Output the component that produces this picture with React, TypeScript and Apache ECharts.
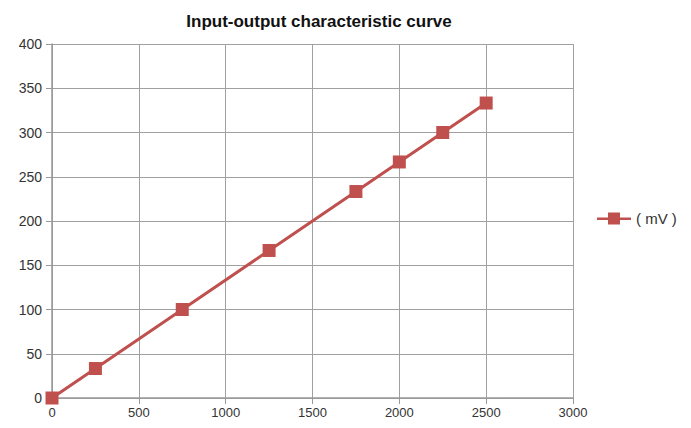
import React, { useEffect, useRef } from "react";
import * as echarts from "echarts";

const xValues = [0, 250, 750, 1250, 1750, 2000, 2250, 2500];
const yValues = [0, 33.3, 100, 166.7, 233.3, 266.7, 300, 333.3];
const seriesName = "( mV )";
const titleText = "Input-output characteristic curve";

export default function App() {
  const ref = useRef<HTMLDivElement>(null);
  useEffect(() => {
    if (!ref.current) return;
    const chart = echarts.init(ref.current, null, { renderer: "svg" });
    const data = xValues.map((x, i) => [x, yValues[i]]);
    chart.setOption({
      animation: false,
      backgroundColor: "#ffffff",
      title: {
        text: titleText,
        left: 314,
        textAlign: "center",
        top: 8,
        textStyle: { fontFamily: "Liberation Sans, Arial, sans-serif", fontSize: 17, fontWeight: "bold", color: "#111" },
      },
      legend: {
        orient: "vertical",
        left: 592,
        top: 206,
        itemWidth: 34,
        itemHeight: 12,
        itemGap: 5,
        textStyle: { fontFamily: "Liberation Sans, Arial, sans-serif", fontSize: 15, color: "#333" },
        data: [{ name: seriesName, icon: "path://M0,5 L11,5 L11,0 L23,0 L23,5 L34,5 L34,7.5 L23,7.5 L23,12 L11,12 L11,7.5 L0,7.5 Z" }],
      },
      grid: { left: 52, right: 118, top: 44, bottom: 30, containLabel: false },
      xAxis: {
        type: "value",
        min: 0,
        max: 3000,
        interval: 500,
        axisLine: { show: true, lineStyle: { color: "#999", width: 1.5 } },
        axisTick: { show: true, length: 6, lineStyle: { color: "#999" } },
        axisLabel: { fontFamily: "Liberation Sans, Arial, sans-serif", fontSize: 13, color: "#333", margin: 8, formatter: (v: number) => String(v) },
        splitLine: { show: true, lineStyle: { color: "#a0a0a0", width: 1 } },
      },
      yAxis: {
        type: "value",
        min: 0,
        max: 400,
        interval: 50,
        axisLine: { show: true, lineStyle: { color: "#999", width: 1.5 } },
        axisTick: { show: true, length: 6, lineStyle: { color: "#999" } },
        axisLabel: { fontFamily: "Liberation Sans, Arial, sans-serif", fontSize: 14, color: "#333", margin: 10, formatter: (v: number) => String(v) },
        splitLine: { show: true, lineStyle: { color: "#a0a0a0", width: 1 } },
      },
      series: [
        {
          name: seriesName,
          type: "line",
          data,
          symbol: "rect",
          symbolSize: 13,
          itemStyle: { color: "#c0504d" },
          lineStyle: { color: "#c0504d", width: 3 },
        },
      ],
    });
    return () => chart.dispose();
  }, []);
  return <div ref={ref} style={{ width: 691, height: 428, position: "absolute", left: 0, top: 0 }} />;
}
